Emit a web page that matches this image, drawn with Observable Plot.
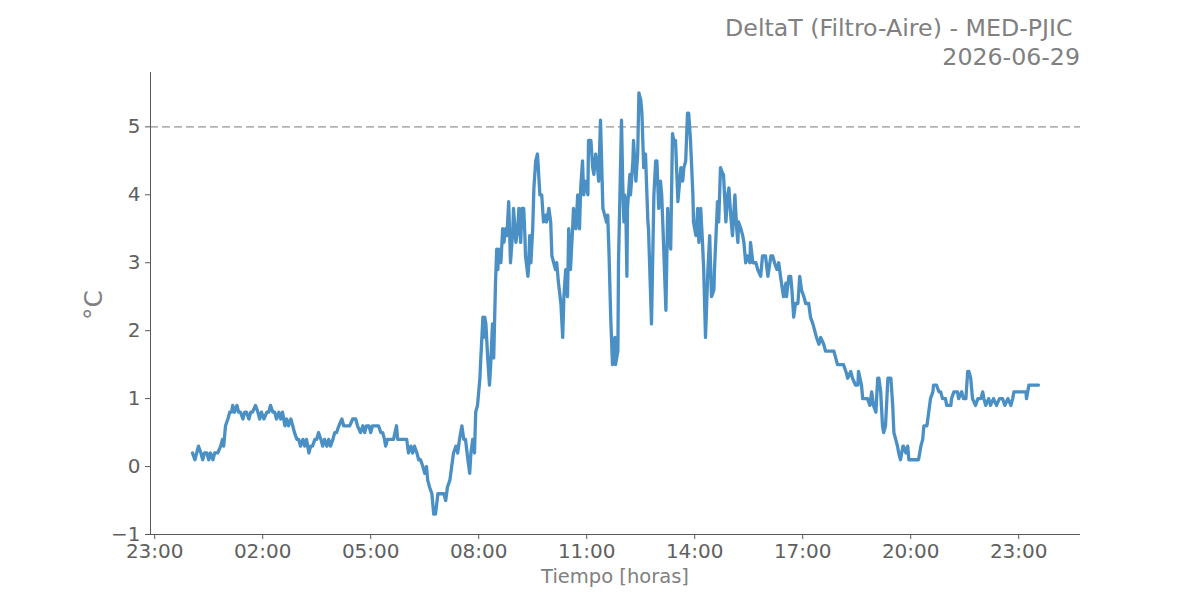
<!DOCTYPE html>
<html>
<head>
<meta charset="utf-8">
<script src="https://cdn.jsdelivr.net/npm/d3@7"></script>
<script src="https://cdn.jsdelivr.net/npm/@observablehq/plot@0.6"></script>
<style>
  body { margin: 0; background: #fff; font-family: "DejaVu Sans", sans-serif; }
  #wrap { position: relative; width: 1200px; height: 600px; }
  #title { position: absolute; right: 120px; top: 14px; text-align: right; color: #808080;
           font-size: 23.7px; line-height: 28.5px; white-space: pre; }
  #ylab { position: absolute; left: 93px; top: 305px; transform: translate(-50%,-50%) rotate(-90deg);
          color: #808080; font-size: 25px; }
  #xlab { position: absolute; left: 615px; top: 565px; transform: translateX(-50%); color: #808080; font-size: 19.5px; }
</style>
</head>
<body>
<div id="wrap">
  <div id="chart"></div>
  <div id="title">DeltaT (Filtro-Aire) - MED-PJIC 
2026-06-29</div>
  <div id="ylab">°C</div>
  <div id="xlab">Tiempo [horas]</div>
</div>
<script>
const day = "2026-06-29";
// minutes since midnight of 2026-06-29
const minutes = [3,7,10,13,17,20,23,27,30,33,37,40,45,50,53,55,58,62,65,68,70,73,77,80,83,87,90,93,97,100,
103,108,112,115,118,122,127,130,133,137,140,143,147,150,153,157,160,163,167,170,173,177,180,183,187,190,193,197,200,
203,207,210,213,217,220,223,227,230,233,237,240,243,247,252,255,260,265,270,275,278,283,287,290,293,297,300,303,308,
313,317,320,323,325,328,333,338,343,345,350,355,360,363,367,370,373,377,380,383,387,390,393,395,398,402,405,408,412,
417,422,425,428,432,435,438,442,445,448,452,455,458,462,465,467,470,473,475,478,480,482,483,487,488,490,492,495,498,
500,503,505,508,510,512,513,517,520,522,525,527,530,533,537,538,542,545,547,550,552,555,557,558,562,563,565,567,570,
572,575,578,582,585,588,592,593,597,600,602,605,608,610,613,617,620,622,625,628,630,633,637,638,642,645,648,650,653,
655,658,662,663,667,670,672,675,678,680,683,687,690,693,695,697,700,703,707,708,712,713,718,720,722,723,725,727,728,
732,733,737,738,742,745,747,750,752,755,758,762,763,768,772,775,777,780,783,785,788,792,795,797,800,803,805,808,812,
813,817,820,822,825,828,830,833,837,838,842,845,847,850,853,855,858,862,865,868,872,873,878,880,883,887,888,892,895,
897,900,903,907,910,912,913,917,920,922,925,928,932,933,937,942,945,950,953,958,962,967,970,973,977,980,983,988,992,
993,997,1000,1002,1005,1008,1012,1015,1018,1022,1025,1030,1033,1037,1040,1043,1047,1050,1055,1058,1063,1068,1072,
1075,1078,1083,1088,1092,1095,1100,1103,1108,1112,1113,1118,1120,1125,1128,1132,1135,1138,1142,1145,1147,1150,1153,
1155,1158,1162,1167,1170,1172,1175,1178,1180,1183,1187,1188,1192,1195,1197,1200,1205,1208,1213,1217,1220,1222,1227,
1230,1233,1237,1238,1243,1247,1250,1253,1258,1260,1267,1268,1272,1278,1280,1285,1288,1292,1295,1297,1300,1303,1308,
1312,1317,1320,1322,1325,1330,1333,1338,1343,1348,1353,1357,1362,1367,1370,1372,1383,1392,1393,1397,1413];
const deltaT = [0.2,0.1,0.2,0.3,0.2,0.1,0.2,0.2,0.1,0.2,0.1,0.2,0.2,0.3,0.4,0.3,0.6,0.7,0.8,0.8,0.9,0.8,0.9,0.8,0.8,0.7,0.8,0.8,0.7,0.8,
0.8,0.9,0.8,0.7,0.8,0.7,0.8,0.8,0.9,0.8,0.8,0.7,0.8,0.7,0.8,0.6,0.7,0.6,0.7,0.6,0.5,0.4,0.4,0.3,0.4,0.3,0.4,0.2,0.3,
0.3,0.4,0.4,0.5,0.4,0.3,0.4,0.3,0.4,0.3,0.4,0.5,0.5,0.6,0.7,0.6,0.6,0.6,0.7,0.7,0.6,0.5,0.6,0.5,0.6,0.6,0.5,0.6,0.6,
0.6,0.5,0.5,0.4,0.3,0.4,0.4,0.4,0.6,0.4,0.4,0.4,0.4,0.2,0.3,0.2,0.3,0.2,0.1,0.1,0.0,-0.1,0.0,-0.2,-0.3,-0.4,-0.7,-0.7,-0.4,
-0.4,-0.4,-0.5,-0.3,-0.2,0.0,0.2,0.3,0.2,0.4,0.6,0.4,0.4,0.1,-0.1,0.2,0.4,0.2,0.8,0.9,1.1,1.3,1.5,2.2,1.9,2.2,2.1,1.6,1.2,
1.5,2.1,1.6,2.7,3.2,2.9,3.2,3.0,3.5,3.3,3.5,3.4,3.9,3.0,3.5,3.8,3.3,3.5,3.8,3.3,3.8,3.8,3.4,3.1,2.8,2.9,3.4,3.0,3.5,
4.1,4.5,4.6,4.0,4.0,3.6,3.7,3.6,3.8,3.6,3.1,3.0,2.9,3.0,2.7,2.4,1.9,2.5,2.9,2.5,3.5,2.9,3.6,3.8,3.5,4.0,3.5,4.1,4.5,
4.0,4.2,4.0,4.8,4.8,4.4,4.3,4.6,4.4,4.2,5.1,3.8,3.7,3.6,3.7,3.2,2.2,1.5,1.9,1.5,1.7,3.0,5.1,4.2,3.6,4.0,3.9,2.8,3.8,
4.3,4.0,4.5,4.8,4.2,4.6,5.5,5.4,5.2,4.4,4.6,3.6,3.5,2.1,4.0,4.5,4.5,3.8,4.2,4.0,3.3,2.3,3.8,3.4,3.2,4.9,4.8,4.8,3.9,
4.0,4.4,4.2,4.4,4.5,5.2,5.2,4.8,4.0,3.6,3.4,3.8,3.3,3.8,3.3,2.9,1.9,2.9,3.4,2.5,2.6,2.9,3.9,3.6,4.4,4.3,4.3,3.6,4.0,
4.1,3.7,3.4,4.0,3.5,3.3,3.6,3.5,3.4,3.3,3.0,3.1,3.0,3.3,3.0,3.0,2.9,2.8,3.1,3.1,2.8,3.1,3.1,3.0,2.9,3.0,2.8,2.5,2.7,
2.5,2.8,2.8,2.6,2.2,2.4,2.4,2.8,2.6,2.5,2.4,2.4,2.2,2.1,2.0,1.9,1.8,1.9,1.8,1.7,1.7,1.7,1.7,1.6,1.5,1.5,1.5,1.4,1.3,
1.4,1.3,1.2,1.2,1.4,1.2,1.0,1.0,1.0,0.9,1.1,0.9,0.8,1.3,1.3,1.1,0.6,0.5,0.6,1.3,1.3,0.9,0.5,0.4,0.3,0.2,0.1,0.3,0.3,
0.2,0.3,0.1,0.1,0.1,0.1,0.1,0.3,0.4,0.6,0.6,0.8,1.0,1.1,1.2,1.2,1.1,1.1,1.0,1.0,0.9,0.9,1.0,1.1,1.1,1.0,1.1,1.0,1.0,
1.4,1.4,1.3,1.0,0.9,1.0,1.0,1.1,1.0,0.9,1.0,0.9,1.0,0.9,1.0,1.0,0.9,1.0,0.9,1.0,1.1,1.1,1.1,1.0,1.2,1.2];
const threshold = 5;
const xStart = "2026-06-28T22:53Z";
const xEnd = "2026-06-30T00:43Z";
const xTicks = ["2026-06-28T23:00Z","2026-06-29T02:00Z","2026-06-29T05:00Z","2026-06-29T08:00Z","2026-06-29T11:00Z",
  "2026-06-29T14:00Z","2026-06-29T17:00Z","2026-06-29T20:00Z","2026-06-29T23:00Z"];
const yTicks = [-1,0,1,2,3,4,5];
const yDomain = [-1, 5.8];

const base = Date.parse(day + "T00:00Z");
const data = minutes.map((m, i) => ({t: new Date(base + m * 60000), v: deltaT[i]}));
const x0 = new Date(xStart), x1 = new Date(xEnd);
const axisColor = "#5a5a5a";

const chart = Plot.plot({
  width: 1200,
  height: 600,
  marginLeft: 150,
  marginRight: 120,
  marginTop: 72,
  marginBottom: 66,
  style: {fontFamily: "DejaVu Sans, sans-serif", fontSize: "20px", color: "#606060", background: "#fff"},
  x: {type: "utc", domain: [x0, x1]},
  y: {domain: yDomain},
  marks: [
    Plot.ruleY([threshold], {stroke: "#b3b3b3", strokeWidth: 1.6, strokeDasharray: "8,4"}),
    Plot.line(data, {x: "t", y: "v", stroke: "#4a90c4", strokeWidth: 3.3, strokeLinejoin: "round", strokeLinecap: "round"}),
    Plot.ruleX([x0], {stroke: axisColor, strokeWidth: 1}),
    Plot.ruleY([yDomain[0]], {stroke: axisColor, strokeWidth: 1}),
    Plot.axisX(xTicks.map(d => new Date(d)), {tickSize: 5, tickPadding: 4, stroke: axisColor, fill: "#606060",
      tickFormat: d3.utcFormat("%H:%M"), label: null, fontSize: 20}),
    Plot.axisY(yTicks, {tickSize: 5, tickPadding: 5, stroke: axisColor, fill: "#606060",
      tickFormat: d => d < 0 ? "\u2212" + Math.abs(d) : String(d), label: null, fontSize: 20})
  ]
});
document.getElementById("chart").appendChild(chart);
</script>
</body>
</html>
